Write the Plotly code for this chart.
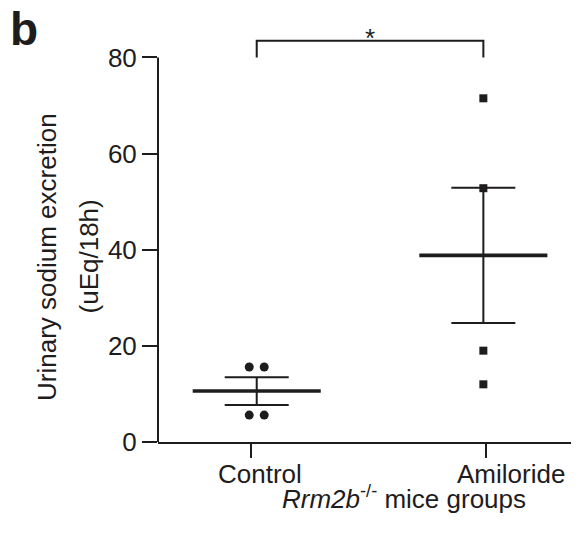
import numpy as np
import plotly.graph_objects as go

# ---------------- data ----------------
groups = ["Control", "Amiloride"]
control_values = [15.6, 15.6, 5.6, 5.6]
amiloride_values = [71.5, 52.8, 19.0, 12.0]
control_jitter = [-0.033, 0.033, -0.033, 0.033]
amiloride_jitter = [0.0, 0.0, 0.0, 0.0]
y_tick_values = [0, 20, 40, 60, 80]
y_title_lines = ["Urinary sodium excretion", "(uEq/18h)"]
x_title = "<i>Rrm2b</i><sup>-/-</sup> mice groups"
significance_label = "*"
panel_label = "b"

# ---------------- style ----------------
INK = "#1e1c1d"
FONT = "Liberation Sans, Arial, Helvetica, sans-serif"
FS = 26
# page body adds an 8px offset, so the figure is 8px smaller
W, H = 571, 527
ML, MR, MT, MB = 150, 0, 11, 93
X_RANGE = [-0.4356, 1.422]
Y_RANGE = [0, 88]
MEAN_HALF = 0.2825
CAP_HALF_PX = 32
BRACKET_BASE = 80
BRACKET_TOP = 83.5
TICK_POS = [-0.025, 1.01]
LABEL_SHIFT = [3, 28]

series = [
    (control_values, control_jitter, "circle", 9),
    (amiloride_values, amiloride_jitter, "square", 8),
]

fig = go.Figure()

for i, (vals, jit, sym, msize) in enumerate(series):
    vals = np.asarray(vals, dtype=float)
    m = vals.mean()
    sem = vals.std(ddof=1) / np.sqrt(len(vals))
    # error bar (SEM)
    fig.add_trace(go.Scatter(
        x=[i], y=[m], mode="markers",
        marker=dict(size=1, color="rgba(0,0,0,0)"),
        error_y=dict(type="data", array=[sem], visible=True,
                     color=INK, thickness=2, width=CAP_HALF_PX),
        showlegend=False, hoverinfo="skip"))
    # mean line
    fig.add_trace(go.Scatter(
        x=[i - MEAN_HALF, i + MEAN_HALF], y=[m, m], mode="lines",
        line=dict(color=INK, width=3.6), showlegend=False, hoverinfo="skip"))
    # individual points
    fig.add_trace(go.Scatter(
        x=[i + j for j in jit], y=vals, mode="markers",
        marker=dict(symbol=sym, size=msize, color=INK, line=dict(width=0)),
        cliponaxis=False, showlegend=False, name=groups[i]))

# significance bracket
fig.add_trace(go.Scatter(
    x=[0, 0, 1, 1], y=[BRACKET_BASE, BRACKET_TOP, BRACKET_TOP, BRACKET_BASE],
    mode="lines", line=dict(color=INK, width=2), showlegend=False,
    hoverinfo="skip"))

annotations = [
    dict(x=0.5, y=BRACKET_TOP, xref="x", yref="y", text=significance_label,
         showarrow=False, yanchor="bottom", yshift=-14,
         font=dict(size=FS, color=INK, family=FONT)),
    dict(x=0, y=1, xref="paper", yref="paper", text=f"<b>{panel_label}</b>",
         showarrow=False, xanchor="center", yanchor="middle",
         xshift=-134, yshift=-10,
         font=dict(size=46, color=INK, family=FONT)),
    dict(x=0, y=38.5, xref="paper", yref="y", text=y_title_lines[0],
         textangle=-90, showarrow=False, xanchor="center", yanchor="middle",
         xshift=-111, font=dict(size=FS, color=INK, family=FONT)),
    dict(x=0, y=38.5, xref="paper", yref="y", text=y_title_lines[1],
         textangle=-90, showarrow=False, xanchor="center", yanchor="middle",
         xshift=-69.5, font=dict(size=FS, color=INK, family=FONT)),
    dict(x=0.65, y=0, xref="x", yref="y", text=x_title,
         showarrow=False, xanchor="center", yanchor="top", yshift=-37,
         font=dict(size=FS, color=INK, family=FONT)),
]
for i, g in enumerate(groups):
    annotations.append(dict(
        x=i, y=0, xref="x", yref="y", text=g, showarrow=False,
        xanchor="center", yanchor="top", xshift=LABEL_SHIFT[i], yshift=-15,
        font=dict(size=FS, color=INK, family=FONT)))

fig.update_layout(
    width=W, height=H,
    margin=dict(l=ML, r=MR, t=MT, b=MB, pad=0),
    paper_bgcolor="white", plot_bgcolor="white",
    font=dict(family=FONT, size=FS, color=INK),
    showlegend=False,
    annotations=annotations,
    shapes=[dict(type="line", xref="paper", x0=0, x1=0, yref="y",
                 y0=0, y1=BRACKET_BASE, line=dict(color=INK, width=2))],
    xaxis=dict(range=X_RANGE, showgrid=False, zeroline=False,
               showline=True, linecolor=INK, linewidth=2,
               ticks="outside", ticklen=14, tickwidth=2, tickcolor=INK,
               tickvals=TICK_POS, showticklabels=False, fixedrange=True),
    yaxis=dict(range=Y_RANGE, showgrid=False, zeroline=False,
               showline=False, ticks="outside", ticklen=15, tickwidth=2,
               tickcolor=INK, tickvals=y_tick_values,
               tickfont=dict(size=FS, color=INK, family=FONT),
               fixedrange=True),
)

fig.write_html("out.html")
